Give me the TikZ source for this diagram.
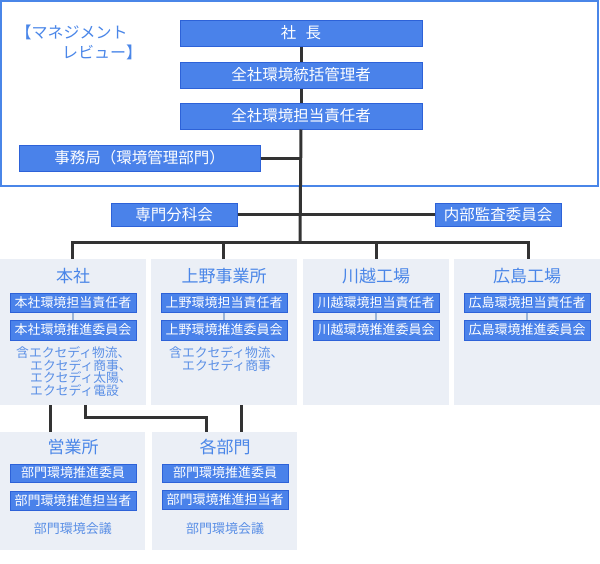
\documentclass[tikz,border=0pt]{standalone}
\usepackage{fontspec}
\setmainfont{Noto Sans CJK JP}
\usetikzlibrary{calc}
\definecolor{boxfill}{HTML}{4A82EA}
\definecolor{boxline}{HTML}{2D62D8}
\definecolor{panelfill}{HTML}{EBEFF6}
\definecolor{linec}{HTML}{333333}
\definecolor{framec}{HTML}{4A86E8}
\definecolor{titlec}{HTML}{4A86E8}
\definecolor{notec}{HTML}{5A8FE6}
\definecolor{subline}{HTML}{9AB4D6}
\begin{document}
\begin{tikzpicture}[x=1pt,y=-1pt,
  bigbox/.style={draw=boxline,fill=boxfill,text=white,inner sep=0pt,line width=1pt,font=\fontsize{15.5}{18}\selectfont},
  smallbox/.style={draw=boxline,fill=boxfill,text=white,inner sep=0pt,line width=1pt,minimum width=126pt,font=\fontsize{13}{15}\selectfont},
  panel/.style={fill=panelfill,inner sep=0pt,anchor=north west},
  paneltitle/.style={text=titlec,font=\fontsize{17}{20}\selectfont,inner sep=0pt},
  note/.style={text=notec,font=\fontsize{12.8}{13}\selectfont,inner sep=0pt,anchor=base west},
  meeting/.style={text=notec,font=\fontsize{13}{15}\selectfont,inner sep=0pt},
  review/.style={text=titlec,font=\fontsize{16}{18}\selectfont,inner sep=0pt,anchor=west},
  conn/.style={draw=linec,line width=3pt},
  subconn/.style={draw=subline,line width=2pt},
  frameline/.style={draw=framec,line width=2pt}]
\useasboundingbox (0,0) rectangle (600,563);

% management review frame
\draw[frameline] (1,1) rectangle (598,186);
\node[review] (rev1) at (15.5,32) {【マネジメント};
\node[review] (rev2) at (62,52) {レビュー】};

% top boxes
\node[bigbox,minimum width=242pt,minimum height=26pt] (shacho) at (301,33) {社\hspace{0.6em}長};
\node[bigbox,minimum width=242pt,minimum height=26pt] (toukatsu) at (301,75) {全社環境統括管理者};
\node[bigbox,minimum width=242pt,minimum height=26pt] (tantou) at (301,116) {全社環境担当責任者};
\node[bigbox,minimum width=241pt,minimum height=26pt] (jimu) at (139.5,158) {事務局（環境管理部門）};
\node[bigbox,minimum width=126pt,minimum height=23pt] (senmon) at (174,214.5) {専門分科会};
\node[bigbox,minimum width=126pt,minimum height=23pt] (naibu) at (498,214.5) {内部監査委員会};

\coordinate (bus) at (300,242);

% panels
\node[panel,minimum width=146pt,minimum height=146pt] (honsha) at (0,259) {};
\node[panel,minimum width=146pt,minimum height=146pt] (ueno) at (151,259) {};
\node[panel,minimum width=146pt,minimum height=146pt] (kawagoe) at (303,259) {};
\node[panel,minimum width=146pt,minimum height=146pt] (hiroshima) at (454,259) {};
\node[panel,minimum width=145pt,minimum height=118pt] (eigyo) at (0,432) {};
\node[panel,minimum width=145pt,minimum height=118pt] (kakubu) at (152,432) {};

% connectors of the main tree
\draw[conn] (shacho.south) -- (toukatsu.north);
\draw[conn] (toukatsu.south) -- (tantou.north);
\draw[conn] (tantou.south) -- (bus);
\draw[conn] (jimu.east) -- (jimu.east -| bus);
\draw[conn] (senmon.east) -- (senmon.east -| bus);
\draw[conn] (naibu.west) -- (naibu.west -| bus);
\coordinate (dh) at (72,259);
\coordinate (du) at (223,259);
\coordinate (dk) at (376,259);
\coordinate (dr) at (528,259);
\draw[conn] (dh) -- (dh |- bus) -- (dr |- bus) -- (dr);
\draw[conn] (du) -- (du |- bus);
\draw[conn] (dk) -- (dk |- bus);

% lower connectors
\coordinate (b1) at (50,405);
\coordinate (b2) at (85,405);
\coordinate (b3) at (241,405);
\coordinate (e1) at (206,432);
\draw[conn] (b1) -- (b1 |- eigyo.north);
\draw[conn] (b2) -- (85,417) -- (206,417) -- (e1);
\draw[conn] (b3) -- (b3 |- kakubu.north);

% panel contents: honsha
\node[paneltitle] (honshat) at (73,276) {本社};
\node[smallbox,minimum height=19pt] (h1) at (73,302.5) {本社環境担当責任者};
\node[smallbox,minimum height=20pt] (h2) at (73,330) {本社環境推進委員会};
\draw[subconn] (h1) -- (h2);
\node[note] (hn1) at (16,357.4) {含エクセディ物流、};
\node[note] (hn2) at (30,370.1) {エクセディ商事、};
\node[note] (hn3) at (30,382.8) {エクセディ太陽、};
\node[note] (hn4) at (30,395.5) {エクセディ電設};

% ueno
\node[paneltitle] (uenot) at (224,276) {上野事業所};
\node[smallbox,minimum height=19pt] (u1) at (224,302.5) {上野環境担当責任者};
\node[smallbox,minimum height=20pt] (u2) at (224,330) {上野環境推進委員会};
\draw[subconn] (u1) -- (u2);
\node[note] (un1) at (169,357.4) {含エクセディ物流、};
\node[note] (un2) at (182,370.1) {エクセディ商事};

% kawagoe
\node[paneltitle] (kawagoet) at (376,276) {川越工場};
\node[smallbox,minimum height=19pt] (k1) at (376,302.5) {川越環境担当責任者};
\node[smallbox,minimum height=20pt] (k2) at (376,330) {川越環境推進委員会};
\draw[subconn] (k1) -- (k2);

% hiroshima
\node[paneltitle] (hiroshimat) at (527,276) {広島工場};
\node[smallbox,minimum height=19pt] (r1) at (527,302.5) {広島環境担当責任者};
\node[smallbox,minimum height=20pt] (r2) at (527,330) {広島環境推進委員会};
\draw[subconn] (r1) -- (r2);

% eigyo
\node[paneltitle] (eigyot) at (73,447) {営業所};
\node[smallbox,minimum height=18pt] (g1) at (73,473) {部門環境推進委員};
\node[smallbox,minimum height=19pt] (g2) at (73,500.5) {部門環境推進担当者};
\node[meeting] (gm) at (73,529) {部門環境会議};

% kakubu
\node[paneltitle] (kakubut) at (225,447) {各部門};
\node[smallbox,minimum height=18pt] (p1) at (225,473) {部門環境推進委員};
\node[smallbox,minimum height=19pt] (p2) at (225,500) {部門環境推進担当者};
\node[meeting] (pm) at (225,529) {部門環境会議};
\end{tikzpicture}
\end{document}
